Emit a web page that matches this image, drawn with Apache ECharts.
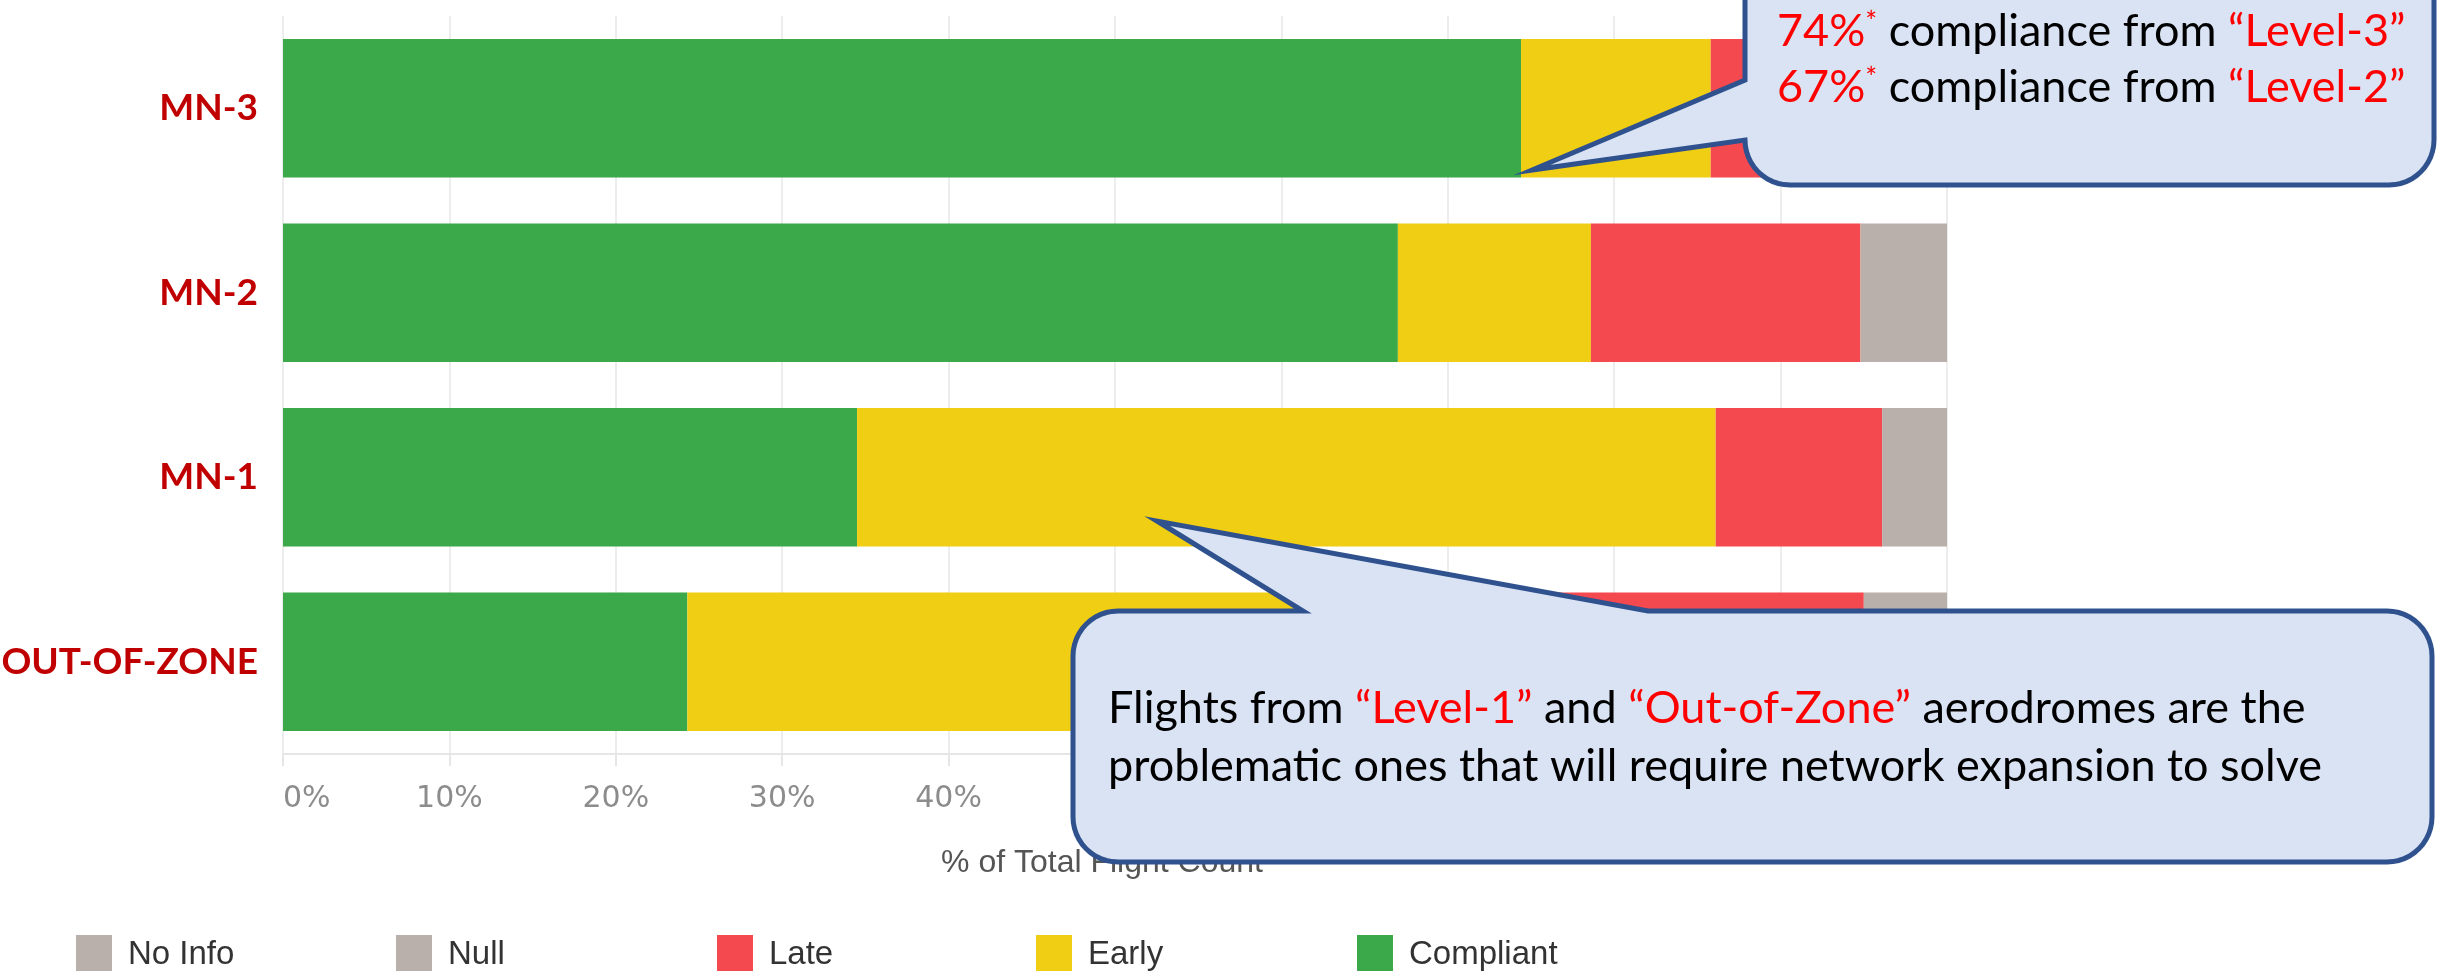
<!DOCTYPE html>
<html>
<head>
<meta charset="utf-8">
<script src="https://cdn.jsdelivr.net/npm/echarts@6/dist/echarts.min.js"></script>
<style>
html,body{margin:0;padding:0;background:#fff;}
#chart{width:2438px;height:971px;}
</style>
</head>
<body>
<div id="chart"></div>
<script>
// ---- data ----
const categories = ['MN-3', 'MN-2', 'MN-1', 'OUT-OF-ZONE'];
const compliant = [74.4, 67.0, 34.5, 24.3];
const early     = [11.4, 11.6, 51.6, 51.2];
const late      = [10.0, 16.2, 10.0, 19.5];
const nullVals  = [0, 0, 0, 0];
const noInfo    = [4.2, 5.2, 3.9, 5.0];
const xTicks = { min: 0, max: 100, interval: 10 };
const legendNames = ['No Info', 'Null', 'Late', 'Early', 'Compliant'];
const axisTitle = '% of Total Flight Count';
const callout1Lines = [
  ['74%', '*', ' compliance from ', '“Level-3”'],
  ['67%', '*', ' compliance from ', '“Level-2”']
];
const callout2Lines = [
  ['Flights from ', '“Level-1”', ' and ', '“Out-of-Zone”', ' aerodromes are the'],
  ['problematic ones that will require network expansion to solve']
];

const colors = {
  'Compliant': '#3BA84A',
  'Early': '#F0CE13',
  'Late': '#F3494F',
  'Null': '#BAB0AB',
  'No Info': '#BAB0AB'
};

const chart = echarts.init(document.getElementById('chart'), null, { renderer: 'canvas' });

function barSeries(name, data) {
  return {
    name: name, type: 'bar', stack: 'total', data: data,
    barCategoryGap: '25%',
    itemStyle: { color: colors[name], borderWidth: 0 },
    emphasis: { disabled: true },
    silent: true
  };
}

const legendLeft = [76, 396, 717, 1036, 1357];
const legends = legendNames.map((n, i) => ({
  data: [n],
  left: legendLeft[i],
  top: 935,
  padding: 0,
  orient: 'horizontal',
  icon: 'rect',
  itemWidth: 36,
  itemHeight: 40,
  selectedMode: false,
  textStyle: {
    fontFamily: 'Liberation Sans',
    fontSize: 33,
    color: '#333333',
    padding: [0, 0, 0, 11]
  }
}));

const baseFont = 'Lato';
const FS = 45;
const richStyles = {
  r: { fill: '#FF0000', fontFamily: baseFont, fontSize: FS },
  s: { fill: '#FF0000', fontFamily: baseFont, fontSize: 28, verticalAlign: 'top' },
  k: { fill: '#000000', fontFamily: baseFont, fontSize: FS }
};

function line1Text(parts) {
  return '{r|' + parts[0] + '}{s|' + parts[1] + '}{k|' + parts[2] + '}{r|' + parts[3] + '}';
}
function line2Text(parts) {
  if (parts.length === 1) return '{k|' + parts[0] + '}';
  return '{k|' + parts[0] + '}{r|' + parts[1] + '}{k|' + parts[2] + '}{r|' + parts[3] + '}{k|' + parts[4] + '}';
}

// decorative callout outline helpers
function arcPts(cx, cy, r, a0, a1) {
  const pts = [];
  const n = 12;
  for (let i = 0; i <= n; i++) {
    const a = a0 + (a1 - a0) * i / n;
    pts.push([cx + r * Math.cos(a), cy + r * Math.sin(a)]);
  }
  return pts;
}
const PI = Math.PI;
function callout1Points() {
  const L = 1745, R = 2434, T = -60, B = 185, r = 45;
  let pts = [[L, T], [R, T]];
  pts = pts.concat(arcPts(R - r, B - r, r, 0, PI / 2));
  pts = pts.concat(arcPts(L + r, B - r, r, PI / 2, PI));
  pts.push([1532, 170]);
  pts.push([L, 80]);
  return pts;
}
function callout2Points() {
  const L = 1073, R = 2432, T = 611, B = 862, r = 45;
  let pts = [];
  pts = pts.concat(arcPts(L + r, T + r, r, PI, 1.5 * PI));
  pts.push([1303, T]);
  pts.push([1157, 521]);
  pts.push([1648, T]);
  pts = pts.concat(arcPts(R - r, T + r, r, 1.5 * PI, 2 * PI));
  pts = pts.concat(arcPts(R - r, B - r, r, 0, PI / 2));
  pts = pts.concat(arcPts(L + r, B - r, r, PI / 2, PI));
  return pts;
}

const option = {
  animation: false,
  backgroundColor: '#ffffff',
  grid: { left: 283, top: 16, width: 1664, height: 738, containLabel: false, outerBoundsMode: 'none' },
  xAxis: {
    type: 'value',
    min: xTicks.min, max: xTicks.max, interval: xTicks.interval,
    name: axisTitle,
    nameLocation: 'middle',
    nameGap: 93,
    nameTextStyle: { fontFamily: 'Liberation Sans', fontSize: 32, color: '#555555', padding: [0, 26, 0, 0] },
    axisLine: { show: true, lineStyle: { color: '#e6e6e6', width: 2 } },
    axisTick: { show: true, length: 12, lineStyle: { color: '#e6e6e6', width: 2 } },
    splitLine: { show: true, lineStyle: { color: '#ededed', width: 2 } },
    axisLabel: {
      formatter: '{value}%',
      fontFamily: 'DejaVu Sans', fontSize: 30, color: '#8c8c8c',
      margin: 30,
      alignMinLabel: 'left'
    }
  },
  yAxis: {
    type: 'category',
    data: categories,
    inverse: true,
    axisLine: { show: false },
    axisTick: { show: false },
    splitLine: { show: false },
    axisLabel: {
      fontFamily: 'Lato', fontWeight: 'bold', fontSize: 37, color: '#C00000', margin: 25
    }
  },
  legend: legends,
  series: [
    barSeries('Compliant', compliant),
    barSeries('Early', early),
    barSeries('Late', late),
    barSeries('Null', nullVals),
    barSeries('No Info', noInfo)
  ],
  graphic: [
    {
      type: 'polygon', z: 100, silent: true,
      shape: { points: callout1Points() },
      style: { fill: '#DAE3F3', stroke: '#2F528F', lineWidth: 5, lineJoin: 'miter' }
    },
    {
      type: 'text', z: 101, silent: true, x: 1777, y: 31,
      style: { text: line1Text(callout1Lines[0]), rich: richStyles, verticalAlign: 'middle', align: 'left', fontFamily: baseFont, fontSize: FS }
    },
    {
      type: 'text', z: 101, silent: true, x: 1777, y: 87,
      style: { text: line1Text(callout1Lines[1]), rich: richStyles, verticalAlign: 'middle', align: 'left', fontFamily: baseFont, fontSize: FS }
    },
    {
      type: 'polygon', z: 100, silent: true,
      shape: { points: callout2Points() },
      style: { fill: '#DAE3F3', stroke: '#2F528F', lineWidth: 5, lineJoin: 'miter' }
    },
    {
      type: 'text', z: 101, silent: true, x: 1108, y: 708,
      style: { text: line2Text(callout2Lines[0]), rich: richStyles, verticalAlign: 'middle', align: 'left', fontFamily: baseFont, fontSize: FS }
    },
    {
      type: 'text', z: 101, silent: true, x: 1108, y: 766,
      style: { text: line2Text(callout2Lines[1]), rich: richStyles, verticalAlign: 'middle', align: 'left', fontFamily: baseFont, fontSize: FS }
    }
  ]
};

chart.setOption(option);
</script>
</body>
</html>
